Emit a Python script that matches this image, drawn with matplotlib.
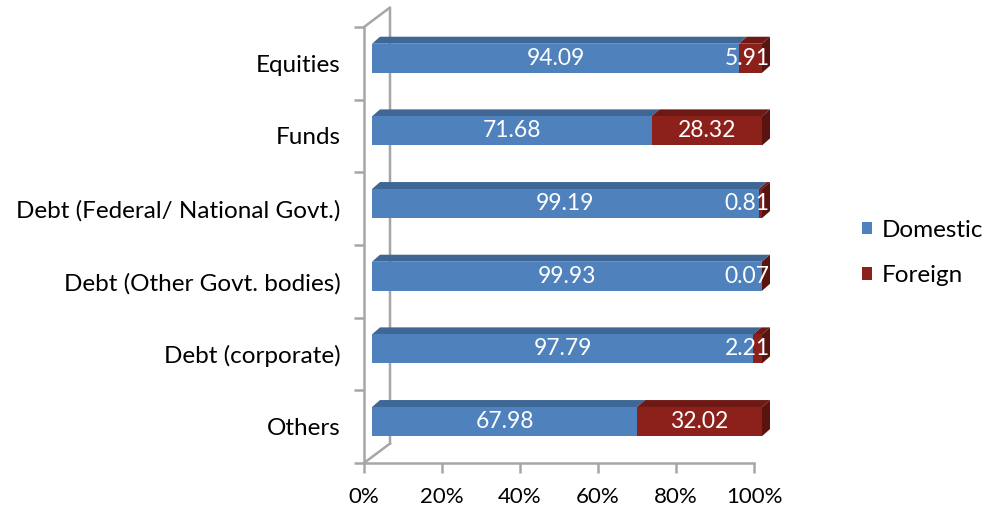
import matplotlib.pyplot as plt
import numpy as np
from matplotlib.patches import Patch, Polygon

categories = ['Equities', 'Funds', 'Debt (Federal/ National Govt.)',
              'Debt (Other Govt. bodies)', 'Debt (corporate)', 'Others']
domestic = [94.09, 71.68, 99.19, 99.93, 97.79, 67.98]
foreign = [5.91, 28.32, 0.81, 0.07, 2.21, 32.02]
series = ['Domestic', 'Foreign']

blue, blue_top = '#4F81BD', '#3E6796'
red, red_top, red_side = '#8C211C', '#6E1915', '#5A1410'
grey = '#A6A6A6'

plt.rcParams['font.family'] = ['Lato', 'DejaVu Sans']
fs_cat = 17.5
fs_num = 16.5
fs_x = 16

fig = plt.figure(figsize=(9.88, 5.08), dpi=100)
ax = fig.add_axes([364/988, 45/508, 390/988, 436/508])
ax.set_xlim(0, 100)
ax.set_ylim(6, 0)

# 3D offsets in data units
px_x = 100/390.0
px_y = 6/436.0
off_x = 8*px_x          # bar front offset from front axis
dep_x, dep_y = 8*px_x, 7*px_y       # bar depth
wall_x, wall_y = 26*px_x, 19.5*px_y  # back wall depth
h = 0.40
lab_in = 15*px_x        # small labels pulled back inside the bar end

# back wall lines
ax.plot([0, wall_x, wall_x], [0, -wall_y, 6 - wall_y], color=grey, lw=1.8,
        clip_on=False, zorder=1)
ax.plot([0, wall_x], [6, 6 - wall_y], color=grey, lw=1.8, clip_on=False, zorder=1)

for i, cat in enumerate(categories):
    yc = i + 0.43
    yt, yb = yc - h/2, yc + h/2
    left = off_x
    end = off_x + domestic[i] + foreign[i]
    segs = [(domestic[i], blue, blue_top), (foreign[i], red, red_top)]
    for val, c, ct in segs:
        ax.barh(yc, val, left=left, height=h, color=c, zorder=3, clip_on=False)
        top = Polygon([(left, yt), (left + val, yt), (left + val + dep_x, yt - dep_y),
                       (left + dep_x, yt - dep_y)], closed=True, facecolor=ct,
                      edgecolor='none', zorder=2, clip_on=False)
        ax.add_patch(top)
        xt = min(left + val/2, end - lab_in)
        ax.text(xt, yc, f'{val:.2f}', color='white', ha='center',
                va='center', fontsize=fs_num, zorder=5, clip_on=False)
        left += val
    side = Polygon([(left, yt), (left + dep_x, yt - dep_y), (left + dep_x, yb - dep_y),
                    (left, yb)], closed=True, facecolor=red_side, edgecolor='none',
                   zorder=2, clip_on=False)
    ax.add_patch(side)

for s in ['top', 'right']:
    ax.spines[s].set_visible(False)
for s in ['left', 'bottom']:
    ax.spines[s].set_color(grey)
    ax.spines[s].set_linewidth(1.8)

ax.set_xticks(np.arange(0, 101, 20))
ax.set_xticklabels([f'{v}%' for v in range(0, 101, 20)], fontsize=fs_x)
ax.tick_params(axis='x', length=7, width=1.8, color=grey, pad=10)

ax.set_yticks(np.arange(7))
ax.set_yticklabels([])
ax.tick_params(axis='y', which='major', length=7, width=1.8, color=grey)
ax.set_yticks(np.arange(6) + 0.5, minor=True)
ax.set_yticklabels(categories, minor=True, fontsize=fs_cat)
ax.tick_params(axis='y', which='minor', length=0, pad=17)

handles = [Patch(facecolor=blue), Patch(facecolor=red)]
fig.legend(handles, series, loc='center left', bbox_to_anchor=(862/988, 1 - 253/508),
           frameon=False, fontsize=fs_cat, handlelength=0.42, handleheight=0.42,
           handletextpad=0.4, labelspacing=1.0, borderpad=0, borderaxespad=0)

fig.savefig('out.png', dpi=100)
